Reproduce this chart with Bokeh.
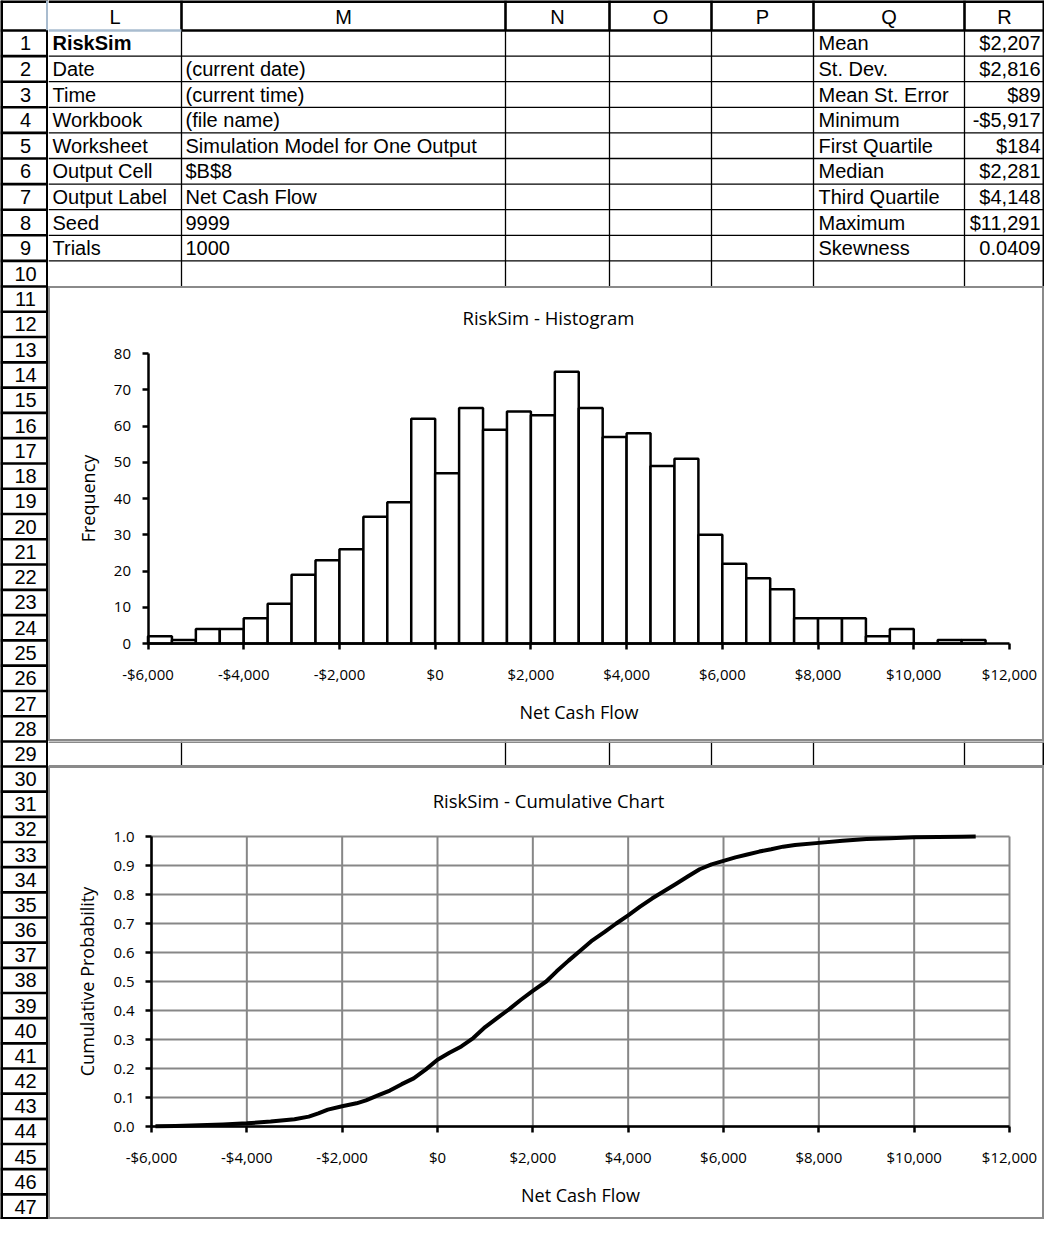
from bokeh.plotting import figure
from bokeh.layouts import row, column
from bokeh.models import Range1d, LinearAxis, Label, FixedTicker, NumeralTickFormatter
from bokeh.embed import file_html
from bokeh.resources import INLINE
from bokeh.core.properties import value

# ---------------------------------------------------------------- data
column_letters = ["L", "M", "N", "O", "P", "Q", "R"]
info_labels = ["RiskSim", "Date", "Time", "Workbook", "Worksheet",
               "Output Cell", "Output Label", "Seed", "Trials"]
info_values = ["", "(current date)", "(current time)", "(file name)",
               "Simulation Model for One Output", "$B$8", "Net Cash Flow",
               "9999", "1000"]
stat_labels = ["Mean", "St. Dev.", "Mean St. Error", "Minimum", "First Quartile",
               "Median", "Third Quartile", "Maximum", "Skewness"]
stat_values = ["$2,207", "$2,816", "$89", "-$5,917", "$184", "$2,281",
               "$4,148", "$11,291", "0.0409"]

bin_starts = [-6000, -5500, -5000, -4500, -4000, -3500, -3000, -2500, -2000, -1500,
              -1000, -500, 0, 500, 1000, 1500, 2000, 2500, 3000, 3500,
              4000, 4500, 5000, 5500, 6000, 6500, 7000, 7500, 8000, 8500,
              9000, 9500, 10000, 10500, 11000]
bin_width = 500
frequencies = [2, 1, 4, 4, 7, 11, 19, 23, 26, 35,
               39, 62, 47, 65, 59, 64, 63, 75, 65, 57,
               58, 49, 51, 30, 22, 18, 15, 7, 7, 7,
               2, 4, 0, 1, 1]

cum_values = [-5917, -5500, -5000, -4500, -4000, -3500, -3000, -2700, -2500, -2300,
              -2000, -1700, -1500, -1250, -1000, -750, -500, -250, 0, 250,
              500, 750, 1000, 1250, 1500, 1750, 2000, 2281, 2500, 2750,
              3000, 3250, 3500, 3750, 4000, 4250, 4500, 4750, 5000, 5250,
              5500, 5750, 6000, 6250, 6500, 6750, 7000, 7250, 7500, 8000,
              8500, 9000, 9500, 10000, 10500, 11000, 11291]
cum_probs = [0.001, 0.002, 0.004, 0.007, 0.011, 0.017, 0.025, 0.034, 0.045, 0.058,
             0.070, 0.080, 0.090, 0.107, 0.124, 0.146, 0.166, 0.196, 0.230, 0.254,
             0.276, 0.305, 0.343, 0.374, 0.404, 0.437, 0.468, 0.500, 0.535, 0.572,
             0.607, 0.642, 0.670, 0.700, 0.728, 0.758, 0.786, 0.811, 0.836, 0.862,
             0.887, 0.904, 0.916, 0.928, 0.938, 0.948, 0.956, 0.965, 0.971, 0.978,
             0.985, 0.991, 0.994, 0.997, 0.998, 0.999, 1.000]

x_ticks = [-6000, -4000, -2000, 0, 2000, 4000, 6000, 8000, 10000, 12000]
x_tick_labels = ["-$6,000", "-$4,000", "-$2,000", "$0", "$2,000", "$4,000",
                 "$6,000", "$8,000", "$10,000", "$12,000"]
freq_ticks = [0, 10, 20, 30, 40, 50, 60, 70, 80]
prob_ticks = [0.0, 0.1, 0.2, 0.3, 0.4, 0.5, 0.6, 0.7, 0.8, 0.9, 1.0]

hist_title = "RiskSim - Histogram"
cum_title = "RiskSim - Cumulative Chart"
x_title = "Net Cash Flow"
hist_y_title = "Frequency"
cum_y_title = "Cumulative Probability"

# ---------------------------------------------------------------- layout (px)
STRIP_X0, STRIP_X1 = 0, 48
col_edges = [48, 181, 505, 609, 711, 813, 964, 1044]
SHEET_X0, SHEET_X1 = col_edges[0], col_edges[-1]
SHEET_W = SHEET_X1 - SHEET_X0
TOP_Y0 = 0
HEADER_Y1 = 30
TOP_ROW_H = 25.6
HIST_Y0 = int(round(HEADER_Y1 + 10 * TOP_ROW_H))   # 286
HIST_H = 455
HIST_Y1 = HIST_Y0 + HIST_H                          # 741
CUM_Y0 = HIST_Y1 + 25                               # 766
CUM_H = 453
CUM_Y1 = CUM_Y0 + CUM_H                             # 1219

row_tops, row_bottoms = [], []
for k in range(1, 48):
    if k <= 10:
        t, h = HEADER_Y1 + (k - 1) * TOP_ROW_H, TOP_ROW_H
    elif k <= 28:
        t, h = HIST_Y0 + (k - 11) * HIST_H / 18, HIST_H / 18
    elif k == 29:
        t, h = HIST_Y1, CUM_Y0 - HIST_Y1
    else:
        t, h = CUM_Y0 + (k - 30) * CUM_H / 18, CUM_H / 18
    row_tops.append(t)
    row_bottoms.append(t + h)
row_centers = [(a + b) / 2 for a, b in zip(row_tops, row_bottoms)]
row_numbers = [str(k) for k in range(1, 48)]

BLACK = "#000000"
BORDER = "#8a8a8a"
GRIDC = "#878787"
HILITE = "#a9bccf"
SHEET_FONT = "Liberation Sans"
CHART_FONT = "Open Sans"


def sheet_fig(x0, x1, y0, y1):
    p = figure(width=int(round(x1 - x0)), height=int(round(y1 - y0)),
               x_range=Range1d(x0, x1), y_range=Range1d(y1, y0),
               output_backend="svg", toolbar_location=None, tools="",
               min_border=0, x_axis_location=None, y_axis_location=None,
               outline_line_color=None, background_fill_color="white",
               border_fill_color="white")
    p.xgrid.visible = False
    p.ygrid.visible = False
    return p


def seg(p, x0, y0, x1, y1, color=BLACK, width=1.3):
    p.segment(x0=x0, y0=y0, x1=x1, y1=y1, line_color=color, line_width=width)


def sheet_text(p, xs, ys, texts, align="left", bold=False):
    p.text(x=xs, y=ys, text=texts, text_align=align, text_baseline="middle",
           text_font=value(SHEET_FONT), text_font_size=value("20px"),
           text_font_style="bold" if bold else "normal", text_color=BLACK)


# ---------------------------------------------------------------- row-number strip
strip = sheet_fig(STRIP_X0, STRIP_X1, TOP_Y0, CUM_Y1)
seps = [HEADER_Y1] + row_bottoms
seg(strip, STRIP_X0, seps, STRIP_X1, seps, width=2.6)
seg(strip, STRIP_X0, TOP_Y0, STRIP_X1, TOP_Y0, width=5)
seg(strip, STRIP_X0, CUM_Y1, STRIP_X1, CUM_Y1, width=5)
seg(strip, STRIP_X0, TOP_Y0, STRIP_X0, CUM_Y1, width=5)
seg(strip, STRIP_X1, TOP_Y0, STRIP_X1, HEADER_Y1, color=HILITE, width=5)
seg(strip, STRIP_X1, HEADER_Y1, STRIP_X1, CUM_Y1, width=5)
sheet_text(strip, [(STRIP_X0 + STRIP_X1) / 2 + 1] * 47, row_centers, row_numbers, align="center")

# ---------------------------------------------------------------- header + rows 1-10
top = sheet_fig(SHEET_X0, SHEET_X1, TOP_Y0, HIST_Y0)
inner_edges = col_edges[1:-1]
seg(top, SHEET_X0, TOP_Y0, SHEET_X1, TOP_Y0, width=5)
seg(top, inner_edges, TOP_Y0, inner_edges, HEADER_Y1, width=2.6)
seg(top, inner_edges, HEADER_Y1, inner_edges, HIST_Y0, width=1.3)
seg(top, SHEET_X1, TOP_Y0, SHEET_X1, HIST_Y0, width=4)
seg(top, SHEET_X0, HEADER_Y1, col_edges[1], HEADER_Y1, color=HILITE, width=2.6)
seg(top, col_edges[1], HEADER_Y1, SHEET_X1, HEADER_Y1, width=2.6)
seg(top, SHEET_X0, row_bottoms[:9], SHEET_X1, row_bottoms[:9], width=1.3)
col_centers = [(a + b) / 2 for a, b in zip(col_edges[:-1], col_edges[1:])]
sheet_text(top, col_centers, [(TOP_Y0 + HEADER_Y1) / 2 + 1] * 7, column_letters, align="center")
sheet_text(top, [col_edges[0] + 4], [row_centers[0]], info_labels[:1], bold=True)
sheet_text(top, [col_edges[0] + 4] * 8, row_centers[1:9], info_labels[1:])
sheet_text(top, [col_edges[1] + 4] * 9, row_centers[:9], info_values)
sheet_text(top, [col_edges[5] + 5] * 9, row_centers[:9], stat_labels)
sheet_text(top, [col_edges[7] - 4] * 9, row_centers[:9], stat_values, align="right")

# ---------------------------------------------------------------- row 29
gap = sheet_fig(SHEET_X0, SHEET_X1, HIST_Y1, CUM_Y0)
seg(gap, inner_edges, HIST_Y1, inner_edges, CUM_Y0, width=1.3)
seg(gap, SHEET_X1, HIST_Y1, SHEET_X1, CUM_Y0, width=4)
seg(gap, SHEET_X0, HIST_Y1, SHEET_X1, HIST_Y1, color=BORDER, width=3)
seg(gap, SHEET_X0, CUM_Y0, SHEET_X1, CUM_Y0, color=BORDER, width=3)


# ---------------------------------------------------------------- charts
def chart_fig(y_top, height, x_anchor, y_anchor):
    (xv1, xp1), (xv2, xp2) = x_anchor
    kx = (xp2 - xp1) / (xv2 - xv1)
    x0 = xv1 - (xp1 - SHEET_X0) / kx
    x1 = x0 + SHEET_W / kx
    (yv1, yp1), (yv2, yp2) = y_anchor
    ky = (yp1 - yp2) / (yv2 - yv1)
    y1 = yv2 + (yp2 - y_top) / ky
    y0 = y1 - height / ky
    p = figure(width=SHEET_W, height=height, x_range=Range1d(x0, x1),
               y_range=Range1d(y0, y1), output_backend="svg",
               toolbar_location=None, tools="", min_border=0,
               x_axis_location=None, y_axis_location=None,
               outline_line_color=BORDER, outline_line_width=3,
               background_fill_color="white", border_fill_color="white")
    p.xgrid.visible = False
    p.ygrid.visible = False

    def to_data(px, py):
        return x0 + (px - SHEET_X0) / kx, y1 - (py - y_top) / ky
    return p, to_data


def style_axis(ax, label_standoff, title_standoff):
    ax.axis_line_color = BLACK
    ax.axis_line_width = 2.5
    ax.major_tick_line_color = BLACK
    ax.major_tick_line_width = 2.5
    ax.major_tick_out = 6
    ax.major_tick_in = 0
    ax.minor_tick_out = 0
    ax.minor_tick_in = 0
    ax.major_label_text_font = CHART_FONT
    ax.major_label_text_font_size = "15px"
    ax.major_label_text_color = BLACK
    ax.major_label_standoff = label_standoff
    ax.axis_label_text_font = CHART_FONT
    ax.axis_label_text_font_size = "18px"
    ax.axis_label_text_font_style = "normal"
    ax.axis_label_text_color = BLACK
    ax.axis_label_standoff = title_standoff


def add_axes(p, x_lo, y_lo, y_hi, y_ticks, y_title, y_format):
    xa = LinearAxis(fixed_location=y_lo, bounds=(x_ticks[0], x_ticks[-1]),
                    ticker=FixedTicker(ticks=x_ticks, minor_ticks=[]),
                    major_label_overrides=dict(zip(x_ticks, x_tick_labels)),
                    axis_label=x_title)
    style_axis(xa, 14, 13)
    p.add_layout(xa, "below")
    ya = LinearAxis(fixed_location=x_lo, bounds=(y_lo, y_hi),
                    ticker=FixedTicker(ticks=y_ticks, minor_ticks=[]),
                    formatter=NumeralTickFormatter(format=y_format),
                    axis_label=y_title)
    style_axis(ya, 11, 11)
    p.add_layout(ya, "left")


def add_title(p, to_data, text, py):
    tx, ty = to_data(548, py)
    p.add_layout(Label(x=tx, y=ty, text=text, text_align="center",
                       text_baseline="middle", text_font=CHART_FONT,
                       text_font_size="18.5px", text_color=BLACK))


# histogram
hist, hist_map = chart_fig(HIST_Y0, HIST_H, ((-6000, 147.5), (12000, 1009)),
                           ((0, 643), (80, 353)))
hist.quad(left=bin_starts, right=[b + bin_width for b in bin_starts],
          bottom=0, top=frequencies, fill_color="white", line_color=BLACK,
          line_width=2.5)
add_axes(hist, x_ticks[0], freq_ticks[0], freq_ticks[-1], freq_ticks, hist_y_title, "0")
add_title(hist, hist_map, hist_title, 316.5)

# cumulative chart
cum, cum_map = chart_fig(CUM_Y0, CUM_H, ((-6000, 151), (12000, 1009)),
                         ((0.0, 1126), (1.0, 836)))
cum.segment(x0=x_ticks, y0=prob_ticks[0], x1=x_ticks, y1=prob_ticks[-1],
            line_color=GRIDC, line_width=2)
cum.segment(x0=x_ticks[0], y0=prob_ticks, x1=x_ticks[-1], y1=prob_ticks,
            line_color=GRIDC, line_width=2)
cum.line(cum_values, cum_probs, line_color=BLACK, line_width=4, line_join="round")
add_axes(cum, x_ticks[0], prob_ticks[0], prob_ticks[-1], prob_ticks, cum_y_title, "0.0")
add_title(cum, cum_map, cum_title, 799.5)

layout = row(strip, column(top, hist, gap, cum))
open("out.html", "w").write(file_html(layout, INLINE, title="RiskSim"))
